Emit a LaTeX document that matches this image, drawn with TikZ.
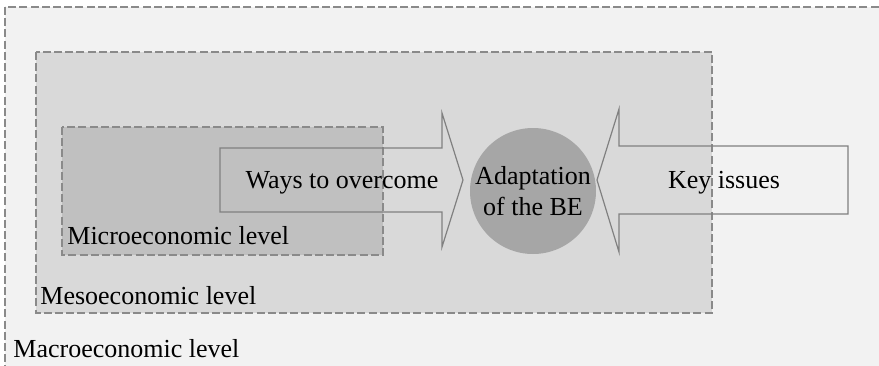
\documentclass[tikz,border=0pt]{standalone}
\usepackage{fontspec}
\setmainfont{Liberation Serif}
\usetikzlibrary{positioning}
\definecolor{cmacro}{HTML}{F2F2F2}
\definecolor{cmeso}{HTML}{D9D9D9}
\definecolor{cmicro}{HTML}{C0C0C0}
\definecolor{ccore}{HTML}{A6A6A6}
\definecolor{cedge}{HTML}{8A8A8A}
\definecolor{carrow}{HTML}{808080}
\tikzset{
  lvlbox/.style={draw=cedge, line width=0.6pt, dash pattern=on 4pt off 1.6pt},
  lvllabel/.style={anchor=base west, inner sep=0pt, font=\fontsize{13}{15}\selectfont},
  bigarrow/.style={draw=carrow, line width=0.6pt, line join=miter},
  arrowtext/.style={anchor=base, inner sep=0pt, font=\fontsize{13}{15}\selectfont},
  core/.style={circle, fill=ccore, draw=none, minimum size=63pt, inner sep=0pt,
               align=center, font=\fontsize{13}{15.5}\selectfont},
}

\begin{document}
\begin{tikzpicture}[x=0.5pt, y=-0.5pt]
  \clip (0,0) rectangle (879,365);
  % nested levels
  \draw[lvlbox, fill=cmacro] (5,7) rectangle (900,400);
  \draw[lvlbox, fill=cmeso] (36,52) rectangle (712,313);
  \draw[lvlbox, fill=cmicro] (62,127) rectangle (383,255);
  \node[lvllabel] (macro) at (13,357) {Macroeconomic level};
  \node[lvllabel] (meso) at (40,304) {Mesoeconomic level};
  \node[lvllabel] (micro) at (67,244) {Microeconomic level};
  % block arrows
  \draw[bigarrow] (220,148) -- (442,148) -- (442,113) -- (463,180)
    -- (442,247) -- (442,212) -- (220,212) -- cycle;
  \draw[bigarrow] (848,146) -- (619,146) -- (619,109) -- (597,180)
    -- (619,252) -- (619,214) -- (848,214) -- cycle;
  \node[arrowtext] (ways) at (342,188) {Ways to overcome};
  \node[arrowtext] (keys) at (724,188) {Key issues};
  % centre
  \node[core] (adapt) at (533,191) {Adaptation\\of the BE};
\end{tikzpicture}
\end{document}
